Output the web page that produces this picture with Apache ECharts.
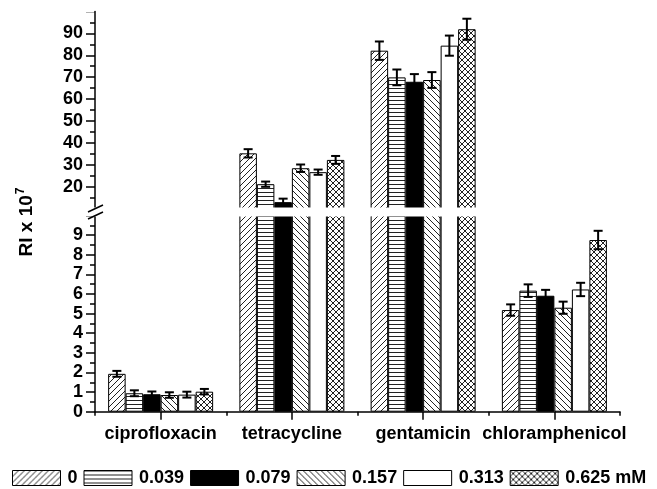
<!DOCTYPE html>
<html>
<head>
<meta charset="utf-8">
<script src="https://cdn.jsdelivr.net/npm/echarts@6/dist/echarts.min.js"></script>
<style>html,body{margin:0;padding:0;background:#fff}#c{width:657px;height:489px}</style>
</head>
<body>
<div id="c"></div>
<script>
// ---- data ----
const categories = ['ciprofloxacin', 'tetracycline', 'gentamicin', 'chloramphenicol'];
const concentrations = ['0', '0.039', '0.079', '0.157', '0.313', '0.625 mM'];
const c0   = [1.93, 35.2, 82.1, 5.18];
const c039 = [0.94, 21.1, 69.9, 6.17];
const c079 = [0.89, 12.9, 67.9, 5.91];
const c157 = [0.85, 28.4, 68.7, 5.30];
const c313 = [0.87, 26.6, 84.4, 6.23];
const c625 = [1.02, 32.2, 91.9, 8.75];
const e0   = [0.15, 1.9, 4.2, 0.29];
const e039 = [0.15, 1.2, 3.6, 0.32];
const e079 = [0.14, 1.6, 3.5, 0.30];
const e157 = [0.14, 1.7, 3.6, 0.31];
const e313 = [0.15, 1.2, 4.6, 0.34];
const e625 = [0.14, 1.8, 4.8, 0.47];
const lowerTicks = [0, 1, 2, 3, 4, 5, 6, 7, 8, 9];
const upperTicks = [20, 30, 40, 50, 60, 70, 80, 90];
const breakValue = 10;

const values = [c0, c039, c079, c157, c313, c625];
const errors = [e0, e039, e079, e157, e313, e625];

// ---- patterns ----
function makePattern(type) {
  const cv = document.createElement('canvas');
  let w = 6, h = 6;
  if (type === 'horiz') { w = 4; h = 4; }
  cv.width = w; cv.height = h;
  const ctx = cv.getContext('2d');
  ctx.fillStyle = '#fff';
  ctx.fillRect(0, 0, w, h);
  ctx.strokeStyle = '#222';
  ctx.lineWidth = 1;
  ctx.beginPath();
  if (type === 'fwd' || type === 'cross') {
    ctx.moveTo(-1, h + 1); ctx.lineTo(w + 1, -1);
    ctx.moveTo(-1, 1); ctx.lineTo(1, -1);
    ctx.moveTo(w - 1, h + 1); ctx.lineTo(w + 1, h - 1);
  }
  if (type === 'back' || type === 'cross') {
    ctx.moveTo(-1, -1); ctx.lineTo(w + 1, h + 1);
    ctx.moveTo(w - 1, -1); ctx.lineTo(w + 1, 1);
    ctx.moveTo(-1, h - 1); ctx.lineTo(1, h + 1);
  }
  if (type === 'horiz') {
    ctx.moveTo(0, 0.5); ctx.lineTo(w, 0.5);
  }
  ctx.stroke();
  return { image: cv, repeat: 'repeat' };
}
const fills = [makePattern('fwd'), makePattern('horiz'), '#000', makePattern('back'), '#fff', makePattern('cross')];

const fontFamily = '"Liberation Sans", Arial, sans-serif';
const labelStyle = { fontFamily, fontWeight: 'bold', fontSize: 18, color: '#000' };

const series = [];
concentrations.forEach((name, i) => {
  const itemStyle = { color: fills[i], borderColor: '#000', borderWidth: 1 };
  series.push({
    name, type: 'bar', xAxisIndex: 0, yAxisIndex: 0,
    data: values[i].map(v => (v > breakValue ? v : '-')),
    barGap: '0%', barCategoryGap: '20%', itemStyle, clip: true, silent: true
  });
  series.push({
    name, type: 'bar', xAxisIndex: 1, yAxisIndex: 1,
    data: values[i].slice(),
    barGap: '0%', barCategoryGap: '20%', itemStyle, clip: true, silent: true
  });
});

function errRender(params, api) {
  const cat = api.value(0), si = api.value(1), v = api.value(2), e = api.value(3);
  const catW = api.size([1, 0])[0];
  const barW = catW * 0.8 / 6;
  const c = api.coord([cat, v]);
  const x = c[0] - catW * 0.4 + barW * (si + 0.5);
  const yt = api.coord([cat, v + e])[1];
  const yb = api.coord([cat, v - e])[1];
  const cap = 4.5;
  const st = { stroke: '#000', lineWidth: 2 };
  return {
    type: 'group',
    children: [
      { type: 'line', shape: { x1: x, y1: yt, x2: x, y2: yb }, style: st },
      { type: 'line', shape: { x1: x - cap, y1: yt, x2: x + cap, y2: yt }, style: st },
      { type: 'line', shape: { x1: x - cap, y1: yb, x2: x + cap, y2: yb }, style: st }
    ]
  };
}
const errUpper = [], errLower = [];
values.forEach((arr, si) => arr.forEach((v, ci) => {
  (v > breakValue ? errUpper : errLower).push([ci, si, v, errors[si][ci]]);
}));
series.push({ type: 'custom', xAxisIndex: 0, yAxisIndex: 0, renderItem: errRender, data: errUpper, encode: { x: 0, y: 2 }, z: 10, silent: true });
series.push({ type: 'custom', xAxisIndex: 1, yAxisIndex: 1, renderItem: errRender, data: errLower, encode: { x: 0, y: 2 }, z: 10, silent: true });

const axisLine = { show: true, lineStyle: { color: '#000', width: 1.5 } };

const option = {
  animation: false,
  backgroundColor: '#fff',
  grid: [
    { left: 95, right: 37, top: 11.5, height: 197 },
    { left: 95, right: 37, top: 215.5, bottom: 77.3 }
  ],
  xAxis: [
    { type: 'category', gridIndex: 0, data: categories, show: false },
    { type: 'category', gridIndex: 1, data: categories, position: 'bottom',
      axisLine, axisTick: { show: true, alignWithLabel: true, length: 8, lineStyle: { color: '#000', width: 1.5 } },
      axisLabel: Object.assign({ margin: 13, interval: 0 }, labelStyle) },
    { type: 'category', gridIndex: 1, data: categories, position: 'bottom',
      axisLine: { show: false }, axisLabel: { show: false },
      axisTick: { show: true, length: 4, lineStyle: { color: '#000', width: 1.5 } } }
  ],
  yAxis: [
    { type: 'value', gridIndex: 0, min: breakValue, max: 100, interval: 10,
      axisLine, splitLine: { show: false },
      axisTick: { show: true, length: 9, lineStyle: { color: '#000', width: 1.5 } },
      minorTick: { show: true, splitNumber: 2, length: 5, lineStyle: { color: '#000', width: 1.5 } },
      axisLabel: Object.assign({ margin: 12, formatter: v => (upperTicks.includes(v) ? String(v) : '') }, labelStyle) },
    { type: 'value', gridIndex: 1, min: 0, max: breakValue, interval: 1,
      axisLine, splitLine: { show: false },
      axisTick: { show: true, length: 9, lineStyle: { color: '#000', width: 1.5 } },
      minorTick: { show: true, splitNumber: 2, length: 5, lineStyle: { color: '#000', width: 1.5 } },
      axisLabel: Object.assign({ margin: 12, formatter: v => (lowerTicks.includes(v) ? String(v) : '') }, labelStyle) }
  ],
  legend: {
    data: concentrations, left: 12, top: 469, width: 660, padding: 0,
    itemWidth: 48, itemHeight: 15, itemGap: 6,
    icon: 'rect', selectedMode: false,
    itemStyle: { borderColor: '#000', borderWidth: 1 },
    textStyle: Object.assign({ padding: [0, 0, 0, 2] }, labelStyle)
  },
  graphic: [
    { type: 'rect', z: 50, shape: { x: 84, y: 207.6, width: 536, height: 8.8 }, style: { fill: '#fff' } },
    { type: 'rect', z: 50, shape: { x: 84, y: 9, width: 10.2, height: 3.6 }, style: { fill: '#fff' } },
    { type: 'text', x: 27, y: 222, rotation: Math.PI / 2, z: 60,
      style: { text: '{a|RI x 10}{b|7}', align: 'center', verticalAlign: 'middle',
        rich: { a: { fontFamily, fontWeight: 'bold', fontSize: 19, fill: '#000', lineHeight: 24 },
                b: { fontFamily, fontWeight: 'bold', fontSize: 12, fill: '#000', verticalAlign: 'top', lineHeight: 24, padding: [0, 0, 10, 1] } } } },
    { type: 'line', z: 60, shape: { x1: 88, y1: 212, x2: 103, y2: 205 }, style: { stroke: '#000', lineWidth: 1.5 } },
    { type: 'line', z: 60, shape: { x1: 88, y1: 219, x2: 103, y2: 212 }, style: { stroke: '#000', lineWidth: 1.5 } }
  ],
  series
};
const chart = echarts.init(document.getElementById('c'));
chart.setOption(option);
</script>
</body>
</html>
